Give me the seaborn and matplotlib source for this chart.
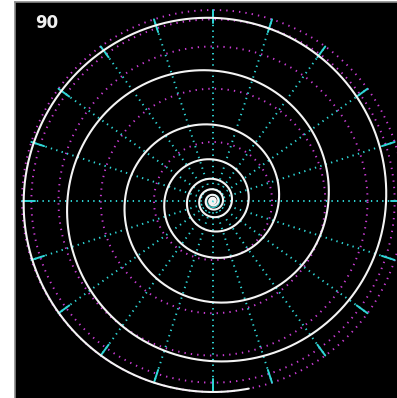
import numpy as np
import pandas as pd
import matplotlib
matplotlib.use("Agg")
import matplotlib.pyplot as plt
import seaborn as sns

# Graticule seen from above the pole (orthographic view)
meridian_longitudes = list(range(0, 360, 18))          # degrees
latitude_colatitudes = [18, 36, 54, 72, 90]            # degrees from the pole
view_label = "90"

# Loxodrome: tan(colatitude/2) grows by a fixed factor every turn
spiral_growth_per_turn = 1.893
spiral_tan_half_at_turn0 = 0.0262
spiral_turn_start = -3.0
spiral_turn_end = 5.78

sns.set_style("dark")

W, H = 397, 398
fig = plt.figure(figsize=(W / 100, H / 100), dpi=100, facecolor="white")
ax = fig.add_axes([15 / W, 0, (W - 15) / W, (H - 1.5) / H])
ax.set_facecolor("black")

cx, cy, R = 213.0, 201.0, 191.0
ax.set_xlim((15 - cx) / R, (W - cx) / R)
ax.set_ylim((cy - H) / R, (cy - 1.5) / R)

for side in ("right", "bottom"):
    ax.spines[side].set_visible(False)
for side in ("left", "top"):
    ax.spines[side].set_visible(True)
    ax.spines[side].set_color("#8a8a8a")
    ax.spines[side].set_linewidth(1.2)
ax.set_xticks([])
ax.set_yticks([])
ax.grid(False)

cyan = "#2fd6d6"
magenta = "#c83cd2"

# Latitude circles (magenta, dotted)
t = np.linspace(0, 2 * np.pi, 400)
for c in latitude_colatitudes:
    r = np.sin(np.radians(c))
    df = pd.DataFrame({"x": r * np.cos(t), "y": r * np.sin(t)})
    sns.lineplot(data=df, x="x", y="y", sort=False, estimator=None, ax=ax,
                 color=magenta, lw=1.4, linestyle=(0, (0.7, 2.6)))

# Meridians (cyan, dotted, with a solid stretch near the rim)
for lon in meridian_longitudes:
    a = np.radians(lon)
    rr = np.array([0.0, 1.0])
    df = pd.DataFrame({"x": rr * np.cos(a), "y": rr * np.sin(a)})
    sns.lineplot(data=df, x="x", y="y", sort=False, estimator=None, ax=ax,
                 color=cyan, lw=1.4, linestyle=(0, (0.7, 2.2)))
    rr = np.array([0.93, 1.0])
    df = pd.DataFrame({"x": rr * np.cos(a), "y": rr * np.sin(a)})
    sns.lineplot(data=df, x="x", y="y", sort=False, estimator=None, ax=ax,
                 color=cyan, lw=1.4)

# Spiral (white)
k = np.linspace(spiral_turn_start, spiral_turn_end, 3000)
theta = 2 * np.pi * k
tan_half = spiral_tan_half_at_turn0 * spiral_growth_per_turn ** k
colat = 2 * np.arctan(tan_half)
r = np.sin(np.minimum(colat, np.pi / 2))
spiral = pd.DataFrame({"x": r * np.cos(theta), "y": r * np.sin(theta)})
sns.lineplot(data=spiral, x="x", y="y", sort=False, estimator=None, ax=ax,
             color="#f4f4f4", lw=1.5)

ax.set_xlabel("")
ax.set_ylabel("")
if ax.get_legend():
    ax.get_legend().remove()

fig.text(35 / W, 1 - 14.5 / H, view_label, color="#f0f0f0", fontsize=12,
         fontweight="bold", family="DejaVu Sans", ha="left", va="top")

fig.savefig("out.png", dpi=100, facecolor="white")
